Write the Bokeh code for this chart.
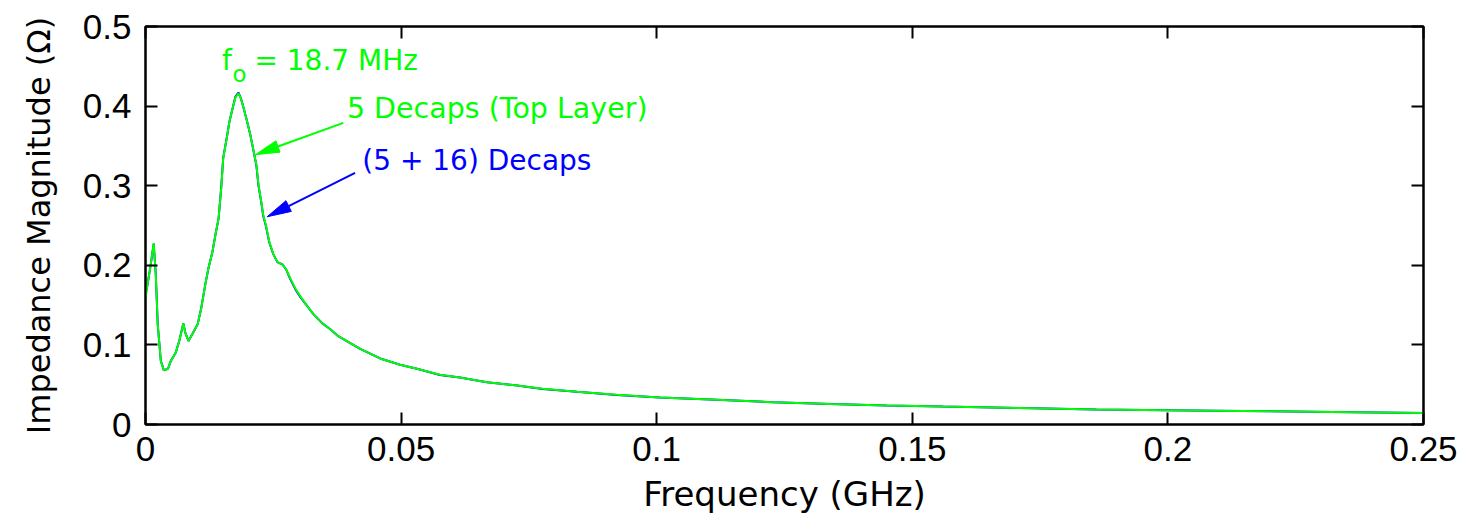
import math
from bokeh.plotting import figure
from bokeh.models import Range1d, LinearAxis, FixedTicker, Label
from bokeh.embed import file_html
from bokeh.resources import INLINE

# ---- data ----
freq_ghz = [0.0000, 0.0004, 0.0010, 0.0016, 0.0020, 0.0024, 0.0030, 0.0036, 0.0044, 0.0049,
            0.0059, 0.0066, 0.0074, 0.0078, 0.0084, 0.0092, 0.0102, 0.0109, 0.0117, 0.0123,
            0.0131, 0.0137, 0.0143, 0.0148, 0.0152, 0.0160, 0.0164, 0.0170, 0.0176, 0.0182,
            0.0187, 0.0193, 0.0199, 0.0205, 0.0211, 0.0217, 0.0221, 0.0227, 0.0230, 0.0236,
            0.0242, 0.0250, 0.0258, 0.0268, 0.0275, 0.0283, 0.0293, 0.0303, 0.0316, 0.0328,
            0.0346, 0.0361, 0.0377, 0.0420, 0.0459, 0.0498, 0.0531, 0.0576, 0.0615, 0.0668,
            0.0727, 0.0777, 0.0844, 0.0922, 0.1006, 0.1117, 0.1227, 0.1340, 0.1450, 0.1560,
            0.1710, 0.1860, 0.2090, 0.2320, 0.2500]

z_top_layer = [0.158, 0.176, 0.200, 0.228, 0.190, 0.125, 0.080, 0.068, 0.070, 0.079,
               0.090, 0.105, 0.127, 0.115, 0.105, 0.114, 0.126, 0.146, 0.176, 0.196,
               0.217, 0.239, 0.259, 0.296, 0.334, 0.364, 0.380, 0.396, 0.411, 0.416,
               0.409, 0.395, 0.380, 0.364, 0.345, 0.326, 0.301, 0.278, 0.264, 0.249,
               0.230, 0.214, 0.204, 0.201, 0.195, 0.184, 0.171, 0.161, 0.149, 0.139,
               0.127, 0.120, 0.111, 0.095, 0.083, 0.075, 0.070, 0.0625, 0.059, 0.053,
               0.049, 0.045, 0.041, 0.0375, 0.034, 0.031, 0.028, 0.0258, 0.0240, 0.0225,
               0.0207, 0.0190, 0.0173, 0.0158, 0.0145]

z_top_plus_16 = [0.163, 0.176, 0.200, 0.227, 0.190, 0.125, 0.080, 0.068, 0.070, 0.079,
                 0.090, 0.105, 0.127, 0.115, 0.105, 0.114, 0.126, 0.146, 0.176, 0.196,
                 0.217, 0.239, 0.259, 0.297, 0.335, 0.364, 0.380, 0.396, 0.412, 0.417,
                 0.409, 0.395, 0.380, 0.364, 0.345, 0.325, 0.300, 0.277, 0.263, 0.248,
                 0.229, 0.214, 0.204, 0.201, 0.195, 0.183, 0.170, 0.160, 0.149, 0.139,
                 0.127, 0.120, 0.111, 0.095, 0.083, 0.075, 0.070, 0.0622, 0.059, 0.053,
                 0.049, 0.0447, 0.041, 0.0372, 0.034, 0.031, 0.028, 0.0258, 0.0240, 0.0225,
                 0.0207, 0.0188, 0.0173, 0.0158, 0.0145]

x_ticks = [0, 0.05, 0.1, 0.15, 0.2, 0.25]
x_tick_labels = ["0", "0.05", "0.1", "0.15", "0.2", "0.25"]
y_ticks = [0, 0.1, 0.2, 0.3, 0.4, 0.5]
y_tick_labels = ["0", "0.1", "0.2", "0.3", "0.4", "0.5"]

x_title = "Frequency (GHz)"
y_title = "Impedance Magnitude (\u03a9)"

# annotations
ann_text = ["f", "o", "= 18.7 MHz", "5 Decaps (Top Layer)", "(5 + 16) Decaps"]
ann_x = [0.01495, 0.01700, 0.02130, 0.03940, 0.04240]
ann_y = [0.4575, 0.4400, 0.4575, 0.3975, 0.3315]
ann_size = ["28px", "23px", "28px", "28.5px", "28px"]
ann_color = ["#00ff00", "#00ff00", "#00ff00", "#00ff00", "#0000ff"]

arrow_tail_x = [0.0387, 0.0410]
arrow_tail_y = [0.3790, 0.3160]
arrow_tip_x = [0.0215, 0.0238]
arrow_tip_y = [0.3390, 0.2610]
arrow_color = ["#00ff00", "#0000ff"]

GREEN = "#00ff00"
BLUE = "#0000ff"

W, H = 1463, 522
BL, BR, BT, BB = 145, 40, 26, 98

p = figure(width=W, height=H, x_range=Range1d(0, 0.25), y_range=Range1d(0, 0.5),
           output_backend="svg", toolbar_location=None,
           min_border_left=BL, min_border_right=BR, min_border_top=BT, min_border_bottom=BB)
p.xgrid.visible = False
p.ygrid.visible = False
p.background_fill_color = "white"
p.border_fill_color = "white"
p.outline_line_color = "black"
p.outline_line_width = 2

TICK_FONT = "Liberation Sans"
LABEL_FONT = "DejaVu Sans"


def style_axis(ax, ticks, labels, show_labels):
    ax.ticker = FixedTicker(ticks=ticks)
    ax.major_tick_in = 12
    ax.major_tick_out = 0
    ax.minor_tick_line_color = None
    ax.major_tick_line_width = 2
    ax.major_tick_line_color = "black"
    ax.axis_line_width = 2
    ax.axis_line_color = "black"
    ax.major_label_text_font = TICK_FONT
    if show_labels:
        ax.major_label_overrides = {t: l for t, l in zip(ticks, labels)}
        ax.major_label_text_color = "black"
        ax.major_label_text_font_size = "35px"
    else:
        ax.major_label_text_color = None
        ax.major_label_text_font_size = "1px"
        ax.major_label_standoff = 0


xa = p.xaxis[0]
ya = p.yaxis[0]
style_axis(xa, x_ticks, x_tick_labels, True)
style_axis(ya, y_ticks, y_tick_labels, True)
xa.major_label_standoff = 12
ya.major_label_standoff = 14
xa.axis_label = x_title
ya.axis_label = y_title
for ax, fs in ((xa, "34px"), (ya, "32px")):
    ax.axis_label_text_font = LABEL_FONT
    ax.axis_label_text_font_size = fs
    ax.axis_label_text_font_style = "normal"
    ax.axis_label_text_color = "black"
xa.axis_label_standoff = 10
ya.axis_label_standoff = 22

top = LinearAxis()
style_axis(top, x_ticks, x_tick_labels, False)
p.add_layout(top, "above")
right = LinearAxis()
style_axis(right, y_ticks, y_tick_labels, False)
p.add_layout(right, "right")

# curves: blue first, green drawn over it
p.line(freq_ghz, z_top_plus_16, line_color=BLUE, line_width=2)
p.line(freq_ghz, z_top_layer, line_color=GREEN, line_width=2)

# arrows (line + narrow filled head, head computed in screen proportions)
frame_w = W - BL - BR
frame_h = H - BT - BB
sx = frame_w / 0.25
sy = frame_h / 0.5
HEAD_LEN, HEAD_HALF = 24.0, 6.0
for tx, ty, hx, hy, c in zip(arrow_tail_x, arrow_tail_y, arrow_tip_x, arrow_tip_y, arrow_color):
    dx = (tx - hx) * sx
    dy = (ty - hy) * sy
    d = math.hypot(dx, dy)
    ux, uy = dx / d, dy / d
    bx, by = ux * HEAD_LEN, uy * HEAD_LEN
    nx, ny = -uy * HEAD_HALF, ux * HEAD_HALF
    base_x = hx + bx / sx
    base_y = hy + by / sy
    p.segment(x0=[tx], y0=[ty], x1=[base_x], y1=[base_y], line_color=c, line_width=2)
    p.patch([hx, hx + (bx + nx) / sx, hx + (bx - nx) / sx],
            [hy, hy + (by + ny) / sy, hy + (by - ny) / sy],
            fill_color=c, line_color=c, line_width=1)

for t, x, y, fs, c in zip(ann_text, ann_x, ann_y, ann_size, ann_color):
    p.add_layout(Label(x=x, y=y, text=t, text_font=LABEL_FONT, text_font_size=fs,
                       text_color=c, text_baseline="alphabetic", text_align="left"))

with open("out.html", "w") as f:
    f.write(file_html(p, INLINE))
